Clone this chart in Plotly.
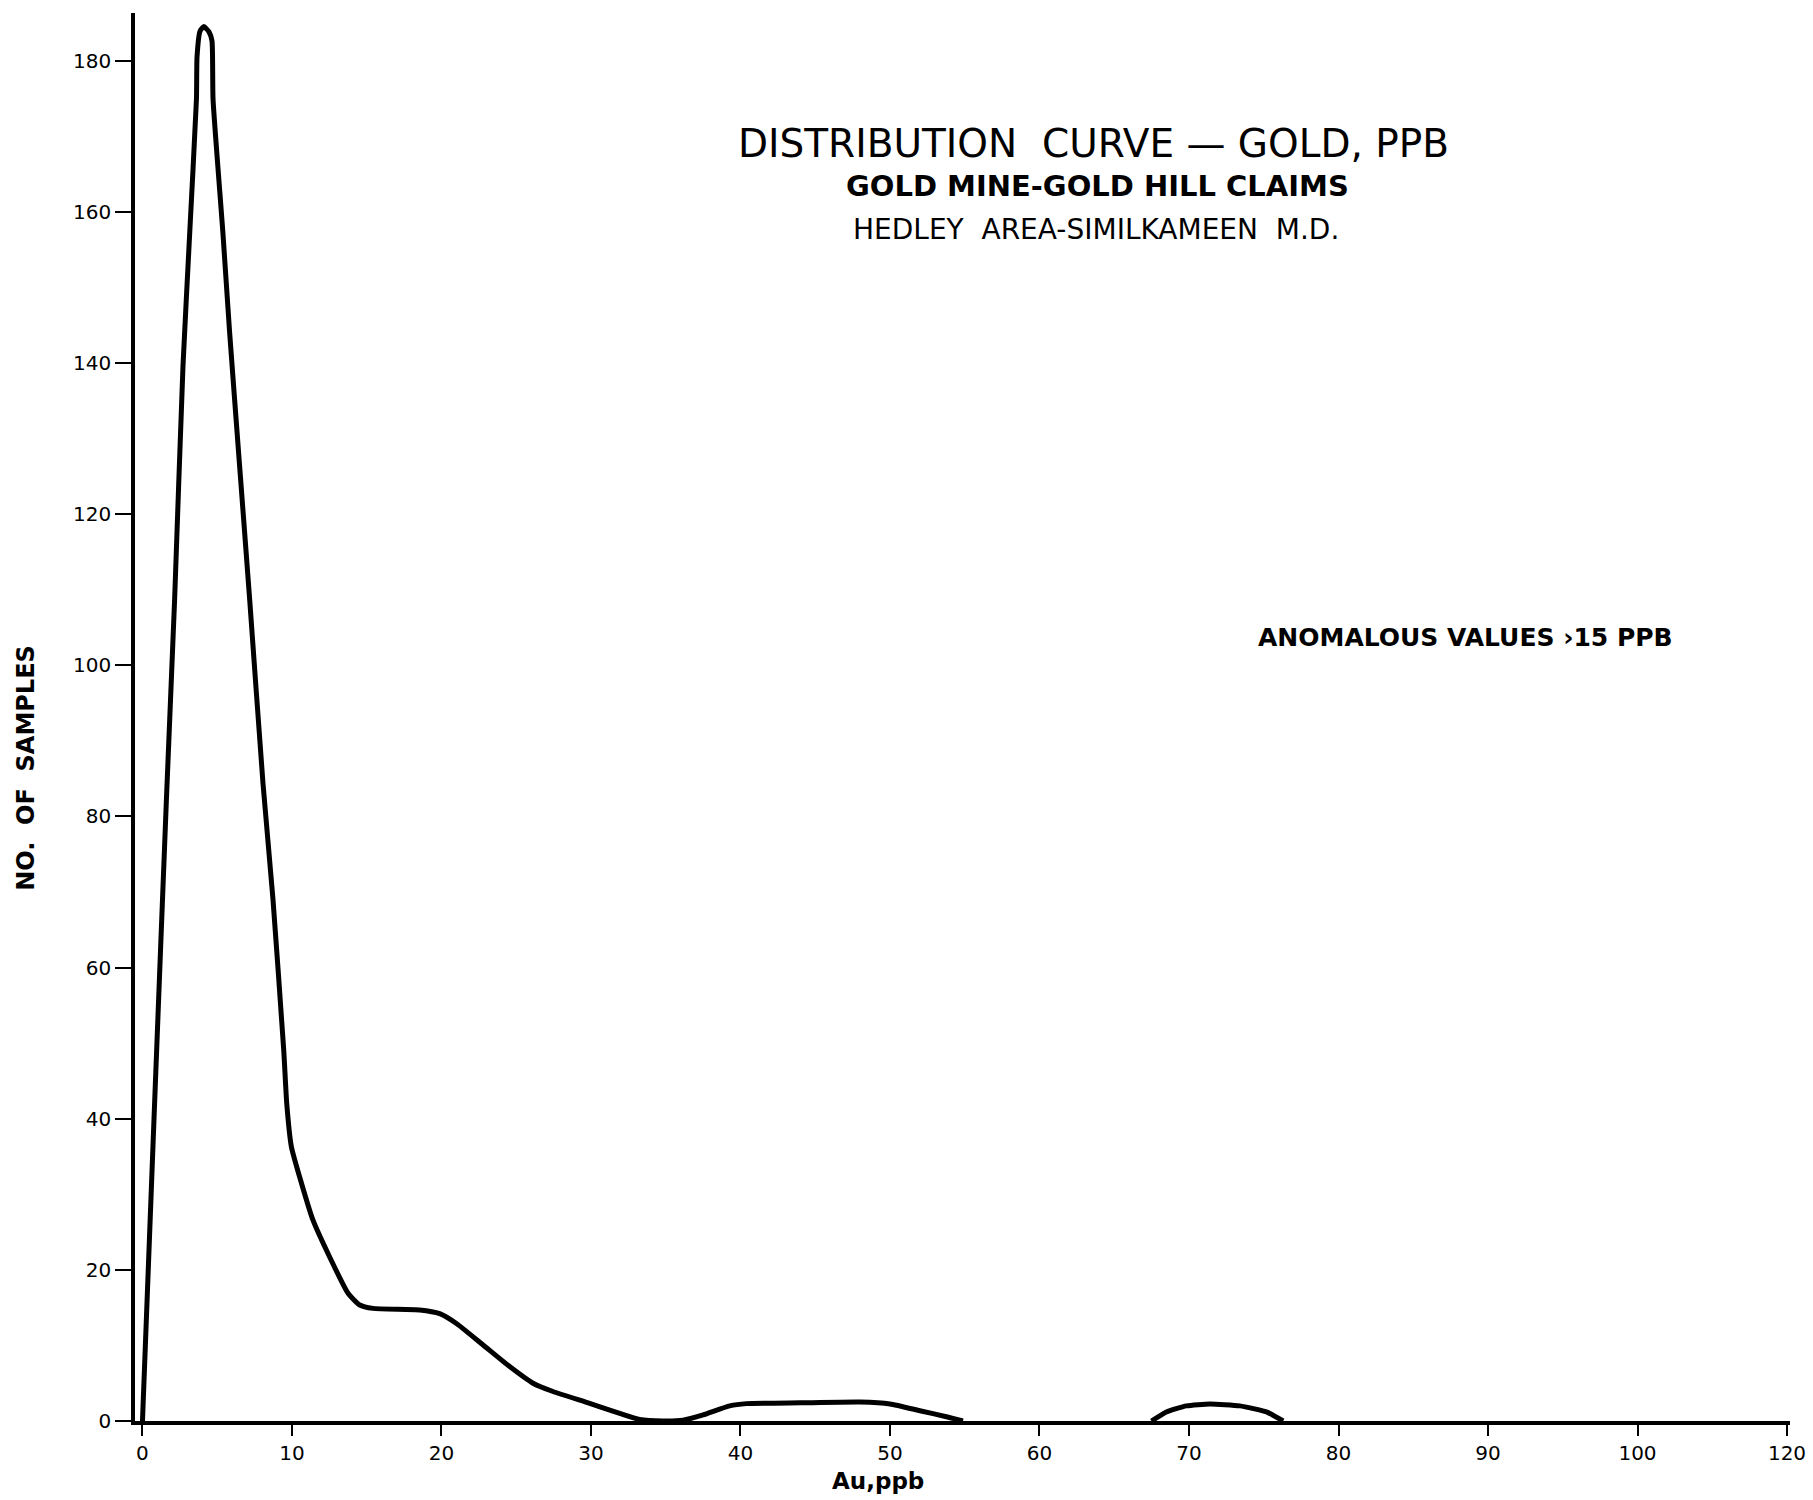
import plotly.graph_objects as go

# Au (ppb) vs number of samples
au_main = [0, 0.82, 1.6, 2.15, 2.71, 3.16, 3.61, 3.65, 3.85, 4.11, 4.45, 4.65, 4.72,
           5.38, 5.83, 6.5, 7.17, 8.06, 8.73, 9.45, 9.65, 9.96, 10.63, 11.4, 12.52,
           13.75, 14.53, 15.42, 18.54, 19.88, 21.0, 22.78, 24.56, 26.12, 27.46, 29.91,
           31.92, 33.26, 34.8, 36.15, 37.5, 39.28, 40.4, 44.0, 48.0, 50.0, 52.0, 53.77, 54.88]
n_main = [0, 42.5, 82.2, 108.7, 139.6, 157.2, 174.9, 180.5, 183.9, 184.5, 183.8, 182.6, 174.9,
          157.2, 144.0, 126.3, 108.7, 84.4, 69.0, 49.0, 42.0, 36.3, 31.5, 26.6, 21.7,
          16.9, 15.35, 14.9, 14.7, 14.2, 12.9, 10.06, 7.2, 5.0, 3.9, 2.34,
          1.0, 0.2, 0.0, 0.1, 0.8, 2.0, 2.3, 2.4, 2.5, 2.25, 1.36, 0.57, 0.0]
au_bump = [67.49, 68.49, 69.83, 71.4, 73.4, 75.18, 76.3]
n_bump = [0.0, 1.2, 2.0, 2.25, 2.0, 1.2, 0.0]

x_tickvals = [0, 10, 20, 30, 40, 50, 60, 70, 80, 90, 100, 110]
x_ticktext = ["0", "10", "20", "30", "40", "50", "60", "70", "80", "90", "100", "120"]
y_tickvals = [0, 20, 40, 60, 80, 100, 120, 140, 160, 180]

title_1 = "DISTRIBUTION\u00a0 CURVE \u2014 GOLD, PPB"
title_2 = "GOLD MINE-GOLD HILL CLAIMS"
title_3 = "HEDLEY\u00a0 AREA-SIMILKAMEEN\u00a0 M.D."
note = "ANOMALOUS VALUES \u203a15 PPB"
y_title = "NO.\u00a0 OF\u00a0 SAMPLES"
x_title = "Au,ppb"

FONT = "DejaVu Sans"

xs = au_main + [None] + au_bump
ys = n_main + [None] + n_bump

fig = go.Figure()
fig.add_trace(go.Scatter(
    x=xs, y=ys, mode="lines", connectgaps=False,
    line=dict(color="black", width=5, shape="spline", smoothing=0.5),
    showlegend=False, hoverinfo="x+y",
))

fig.update_layout(
    width=1813, height=1500,
    margin=dict(l=135, r=23, t=13, b=79, autoexpand=False),
    paper_bgcolor="white", plot_bgcolor="white",
    font=dict(family=FONT, color="black"),
    xaxis=dict(
        range=[-0.5, 110.2], showgrid=False, zeroline=False,
        showline=True, linecolor="black", linewidth=3.5,
        ticks="outside", ticklen=11, tickwidth=2, tickcolor="black",
        tickvals=x_tickvals, ticktext=x_ticktext,
        tickfont=dict(family=FONT, size=20, color="black"),
    ),
    yaxis=dict(
        range=[0, 186.3], showgrid=False, zeroline=False,
        showline=True, linecolor="black", linewidth=3.5,
        ticks="outside", ticklen=16, tickwidth=2, tickcolor="black",
        tickvals=y_tickvals,
        tickfont=dict(family=FONT, size=20, color="black"),
    ),
)

ann = []
ann.append(dict(text=title_1, x=63.6, y=169.0, xref="x", yref="y",
                showarrow=False, xanchor="center", yanchor="middle",
                font=dict(family=FONT, size=39, color="black")))
ann.append(dict(text="<b>" + title_2 + "</b>", x=63.9, y=163.4, xref="x", yref="y",
                showarrow=False, xanchor="center", yanchor="middle",
                font=dict(family=FONT, size=29, color="black")))
ann.append(dict(text=title_3, x=63.8, y=157.7, xref="x", yref="y",
                showarrow=False, xanchor="center", yanchor="middle",
                font=dict(family=FONT, size=28, color="black")))
ann.append(dict(text="<b>" + note + "</b>", x=88.5, y=103.7, xref="x", yref="y",
                showarrow=False, xanchor="center", yanchor="middle",
                font=dict(family=FONT, size=25, color="black")))
ann.append(dict(text="<b>" + y_title + "</b>", x=-0.066, y=86.4, xref="paper", yref="y",
                showarrow=False, xanchor="center", yanchor="middle", textangle=-90,
                font=dict(family=FONT, size=24, color="black")))
ann.append(dict(text="<b>" + x_title + "</b>", x=49.2, y=-0.032, xref="x", yref="paper",
                showarrow=False, xanchor="center", yanchor="top",
                font=dict(family=FONT, size=23, color="black")))
fig.update_layout(annotations=ann)

fig.write_html(
    "out.html",
    config={"displayModeBar": False},
    post_script="document.body.style.margin='0';document.body.style.overflow='hidden';",
)
